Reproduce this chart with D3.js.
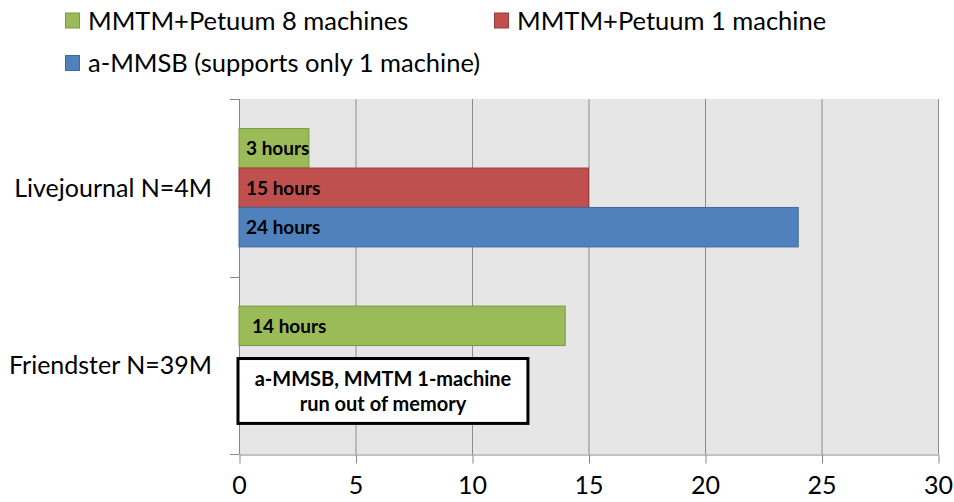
<!DOCTYPE html>
<html>
<head>
<meta charset="utf-8">
<script src="https://cdn.jsdelivr.net/npm/d3@7"></script>
<style>
  body { margin: 0; background: #fff; }
  svg { display: block; font-family: Lato, "Open Sans", sans-serif; }
</style>
</head>
<body>
<div id="chart"></div>
<script>
// data
const categories = ["Livejournal N=4M", "Friendster N=39M"];
const seriesNames = ["MMTM+Petuum 8 machines", "MMTM+Petuum 1 machine", "a-MMSB (supports only 1 machine)"];
const petuum8 = [3, 14];
const petuum1 = [15, null];
const ammsb = [24, null];
const xTicks = [0, 5, 10, 15, 20, 25, 30];
const noteLines = ["a-MMSB, MMTM 1-machine", "run out of memory"];

const seriesValues = [petuum8, petuum1, ammsb];
const fills = ["#9BBB59", "#C0504D", "#4F81BD"];
const strokes = ["#7A9A3E", "#9C3B39", "#3E6A9E"];

const W = 954, H = 502;
const plot = { left: 239, right: 938, top: 99, bottom: 454 };

const svg = d3.select("#chart").append("svg")
  .attr("width", W).attr("height", H);

const x = d3.scaleLinear().domain([0, 30]).range([plot.left, plot.right]);
const y = d3.scaleBand().domain(categories).range([plot.top, plot.bottom]).padding(0);
// excel style gap width 50%
const ySub = d3.scaleBand().domain(d3.range(seriesNames.length))
  .range([0, y.bandwidth()]).paddingInner(0).paddingOuter(0.75);

// plot background
svg.append("rect")
  .attr("x", plot.left).attr("y", plot.top)
  .attr("width", plot.right - plot.left).attr("height", plot.bottom - plot.top)
  .attr("fill", "#E6E6E6");

// vertical grid
svg.append("g").selectAll("line").data(xTicks.slice(1)).join("line")
  .attr("x1", d => x(d) + 0.5).attr("x2", d => x(d) + 0.5)
  .attr("y1", plot.top).attr("y2", plot.bottom)
  .attr("stroke", "#8C8C8C").attr("stroke-width", 1);

// x axis
const xAxis = svg.append("g")
  .attr("transform", `translate(0,${plot.bottom + 0.5})`)
  .call(d3.axisBottom(x).tickValues(xTicks).tickSize(9).tickSizeOuter(0).tickPadding(13));
xAxis.select(".domain").attr("stroke", "#868686");
xAxis.selectAll(".tick line").attr("stroke", "#868686").attr("transform", "translate(0.5,0)");
xAxis.selectAll("text").attr("font-size", 25).attr("fill", "#000")
  .attr("font-family", "Lato, sans-serif");

// y axis line + ticks at band edges
const yEdges = categories.map(c => y(c)).concat([plot.bottom]);
svg.append("line")
  .attr("x1", plot.left + 0.5).attr("x2", plot.left + 0.5)
  .attr("y1", plot.top).attr("y2", plot.bottom)
  .attr("stroke", "#868686");
svg.append("g").selectAll("line").data(yEdges).join("line")
  .attr("x1", plot.left - 9).attr("x2", plot.left)
  .attr("y1", d => Math.round(d) + 0.5).attr("y2", d => Math.round(d) + 0.5)
  .attr("stroke", "#868686");

svg.append("g").selectAll("text").data(categories).join("text")
  .attr("x", plot.left - 27)
  .attr("y", d => y(d) + y.bandwidth() / 2)
  .attr("dy", "0.36em")
  .attr("text-anchor", "end")
  .attr("font-size", 25)
  .attr("fill", "#000")
  .text(d => d);

// bars
const barData = [];
seriesValues.forEach((vals, si) => {
  vals.forEach((v, ci) => {
    if (v != null) barData.push({ s: si, cat: categories[ci], v: v });
  });
});

svg.append("g").selectAll("rect").data(barData).join("rect")
  .attr("x", x(0))
  .attr("y", d => y(d.cat) + ySub(d.s))
  .attr("width", d => x(d.v) - x(0))
  .attr("height", ySub.bandwidth())
  .attr("fill", d => fills[d.s])
  .attr("stroke", d => strokes[d.s])
  .attr("stroke-width", 1);

svg.append("g").selectAll("text").data(barData).join("text")
  .attr("x", d => x(0) + (d.cat === categories[1] ? 13 : 7))
  .attr("y", d => y(d.cat) + ySub(d.s) + ySub.bandwidth() / 2)
  .attr("dy", "0.36em")
  .attr("font-size", 19)
  .attr("font-weight", "bold")
  .attr("fill", "#000")
  .text(d => d.v + " hours");

// out-of-memory note in the Friendster slot
const noteTop = y(categories[1]) + ySub(1) + 13;
const noteBottom = y(categories[1]) + ySub(2) + ySub.bandwidth() - 1;
const noteLeft = x(0) - 1, noteRight = x(12.4);
svg.append("rect")
  .attr("x", noteLeft).attr("y", noteTop)
  .attr("width", noteRight - noteLeft).attr("height", noteBottom - noteTop)
  .attr("fill", "#fff").attr("stroke", "#000").attr("stroke-width", 3);
svg.append("g").selectAll("text").data(noteLines).join("text")
  .attr("x", (noteLeft + noteRight) / 2)
  .attr("y", (d, i) => noteTop + 27 + i * 25)
  .attr("text-anchor", "middle")
  .attr("font-size", 20)
  .attr("font-weight", "bold")
  .attr("fill", "#000")
  .text(d => d);

// legend
const legendPos = [[65, 20.5], [494, 20.5], [65, 63]];
const legend = svg.append("g").selectAll("g").data(seriesNames).join("g")
  .attr("transform", (d, i) => `translate(${legendPos[i][0]},${legendPos[i][1]})`);
legend.append("rect")
  .attr("x", 0.5).attr("y", -7.5).attr("width", 14).attr("height", 15)
  .attr("fill", (d, i) => fills[i]).attr("stroke", (d, i) => strokes[i]);
legend.append("text")
  .attr("x", 23).attr("dy", "0.36em")
  .attr("font-size", 25.5).attr("fill", "#000")
  .text(d => d);
</script>
</body>
</html>
